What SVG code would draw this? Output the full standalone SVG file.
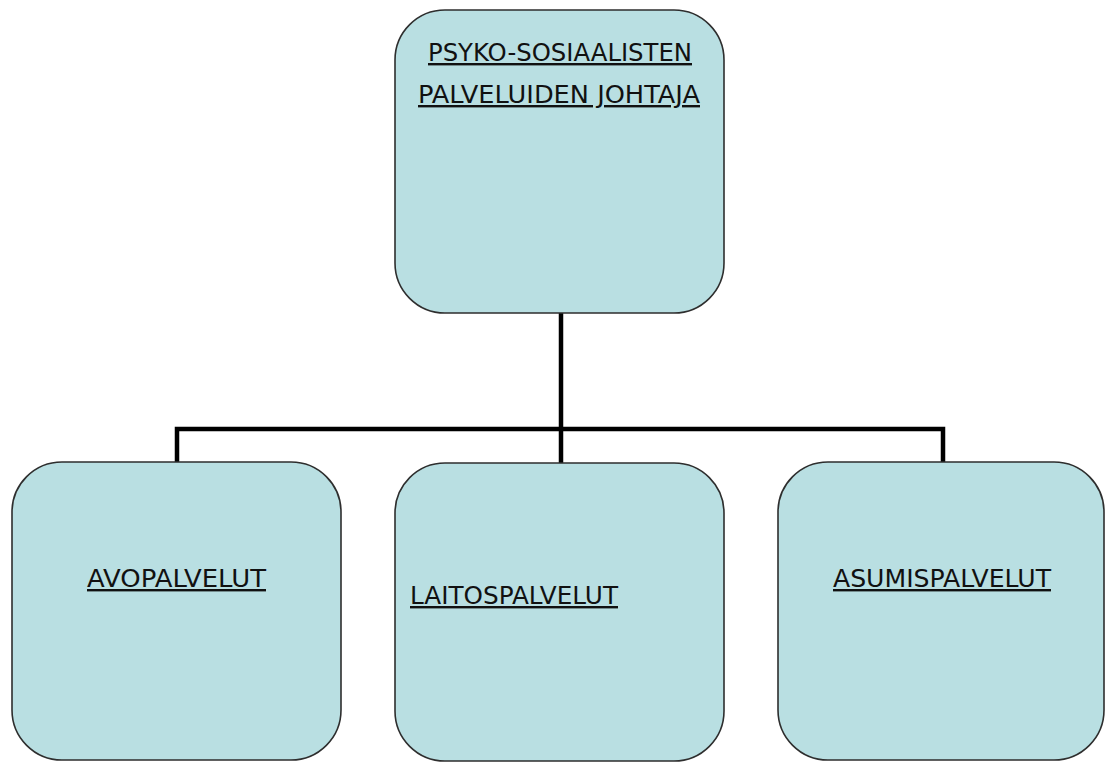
<svg xmlns="http://www.w3.org/2000/svg" width="1105" height="762" viewBox="0 0 1105 762">
<style>
.box{fill:#b9dfe2;stroke:#2e2e2e;stroke-width:1.6}
.lbl{font-family:"DejaVu Sans","Liberation Sans",sans-serif;font-size:24px;fill:#111;text-decoration:underline}
.conn{fill:none;stroke:#000;stroke-width:4.5}
</style>
<rect width="1105" height="762" fill="#fff"/>
<g id="connectors">
<path class="conn" d="M561,313 V429"/>
<path class="conn" d="M177,463 V429 H943 V463"/>
<path class="conn" d="M561,429 V463"/>
</g>
<g id="node-johtaja">
<rect class="box" x="395" y="10" width="329" height="303" rx="50" ry="50"/>
<text class="lbl" x="428" y="61" textLength="264" lengthAdjust="spacingAndGlyphs">PSYKO-SOSIAALISTEN</text>
<text class="lbl" x="418" y="103" textLength="282" lengthAdjust="spacingAndGlyphs">PALVELUIDEN JOHTAJA</text>
</g>
<g id="node-avopalvelut">
<rect class="box" x="12" y="462" width="329" height="298" rx="50" ry="50"/>
<text class="lbl" x="87" y="587" textLength="179" lengthAdjust="spacingAndGlyphs">AVOPALVELUT</text>
</g>
<g id="node-laitospalvelut">
<rect class="box" x="395" y="463" width="329" height="298" rx="50" ry="50"/>
<text class="lbl" x="410" y="604" textLength="208" lengthAdjust="spacingAndGlyphs">LAITOSPALVELUT</text>
</g>
<g id="node-asumispalvelut">
<rect class="box" x="778" y="462" width="326" height="298" rx="50" ry="50"/>
<text class="lbl" x="833" y="587" textLength="218" lengthAdjust="spacingAndGlyphs">ASUMISPALVELUT</text>
</g>
</svg>
